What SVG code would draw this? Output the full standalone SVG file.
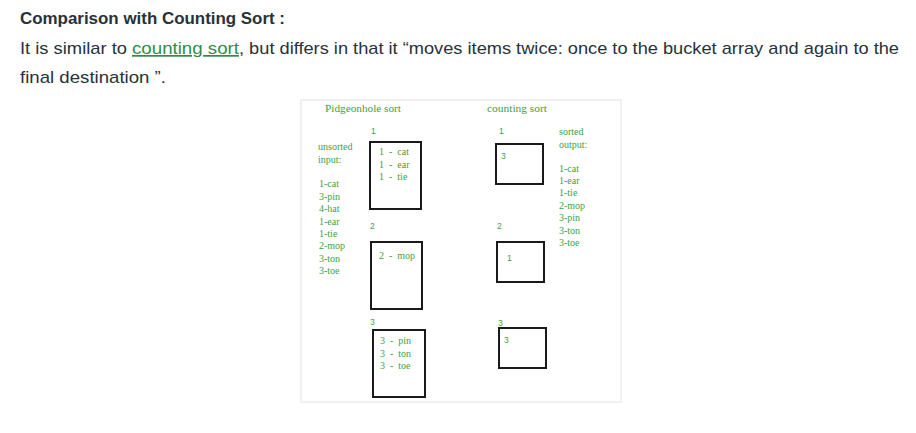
<svg xmlns="http://www.w3.org/2000/svg" width="916" height="433" viewBox="0 0 916 433">
<style>
.h{font-family:"Liberation Sans",Arial,sans-serif;fill:#273239}
.g{font-family:"Liberation Serif","Times New Roman",serif;fill:#43a043;font-size:10px;white-space:pre}
.n{font-family:"Liberation Sans",Arial,sans-serif;fill:#43a043;font-size:8.5px}
.box{fill:#fff;stroke:#1a1a1a;stroke-width:2}
</style>
<rect width="916" height="433" fill="#fff"/>
<text class="h" x="20" y="24" font-size="16" font-weight="bold" textLength="265" lengthAdjust="spacingAndGlyphs">Comparison with Counting Sort :</text>
<text class="h" x="20" y="54" font-size="17" textLength="107" lengthAdjust="spacingAndGlyphs">It is similar to</text>
<text x="132" y="54" font-size="17" font-family="Liberation Sans,Arial,sans-serif" fill="#2f8d46" text-decoration="underline" textLength="107" lengthAdjust="spacingAndGlyphs">counting sort</text>
<text class="h" x="239" y="54" font-size="17" textLength="660" lengthAdjust="spacingAndGlyphs">, but differs in that it “moves items twice: once to the bucket array and again to the</text>
<text class="h" x="20" y="83" font-size="17" textLength="146" lengthAdjust="spacingAndGlyphs">final destination ”.</text>

<rect x="301" y="100" width="320" height="302" fill="#fff" stroke="#ececec" stroke-width="1.5"/>

<g id="pidgeonhole">
<text class="g" x="325" y="112" textLength="76" lengthAdjust="spacingAndGlyphs">Pidgeonhole sort</text>
<text class="g" x="318" y="150">unsorted</text>
<text class="g" x="318" y="163">input:</text>
<g class="g">
<text x="319" y="187">1-cat</text>
<text x="319" y="200">3-pin</text>
<text x="319" y="212">4-hat</text>
<text x="319" y="224.5">1-ear</text>
<text x="319" y="237">1-tie</text>
<text x="319" y="249">2-mop</text>
<text x="319" y="262">3-ton</text>
<text x="319" y="274">3-toe</text>
</g>
</g>

<g id="pbucket1">
<text class="n" x="371" y="134">1</text>
<rect class="box" x="370" y="142" width="51" height="67"/>
<text class="g" x="379" y="155">1  -  cat</text>
<text class="g" x="379" y="167.5">1  -  ear</text>
<text class="g" x="379" y="180">1  -  tie</text>
</g>
<g id="pbucket2">
<text class="n" x="370" y="229">2</text>
<rect class="box" x="371" y="242" width="51" height="67"/>
<text class="g" x="379" y="259">2  -  mop</text>
</g>
<g id="pbucket3">
<text class="n" x="370" y="325">3</text>
<rect class="box" x="373" y="330" width="52" height="67"/>
<text class="g" x="380" y="344">3  -  pin</text>
<text class="g" x="380" y="357">3  -  ton</text>
<text class="g" x="380" y="369">3  -  toe</text>
</g>

<g id="counting">
<text class="g" x="487" y="112" textLength="60" lengthAdjust="spacingAndGlyphs">counting sort</text>
<text class="g" x="559" y="135">sorted</text>
<text class="g" x="559" y="148">output:</text>
<g class="g">
<text x="559" y="172">1-cat</text>
<text x="559" y="184">1-ear</text>
<text x="559" y="196">1-tie</text>
<text x="559" y="209">2-mop</text>
<text x="559" y="221">3-pin</text>
<text x="559" y="233.5">3-ton</text>
<text x="559" y="246">3-toe</text>
</g>
</g>
<g id="cbucket1">
<text class="n" x="499" y="134">1</text>
<rect class="box" x="496" y="144" width="47" height="40"/>
<text class="n" x="501" y="159">3</text>
</g>
<g id="cbucket2">
<text class="n" x="497" y="229">2</text>
<rect class="box" x="497" y="242" width="47" height="40"/>
<text class="n" x="507" y="261">1</text>
</g>
<g id="cbucket3">
<rect class="box" x="499" y="328" width="47" height="40"/>
<text class="n" x="498" y="326">3</text>
<text class="n" x="504" y="343">3</text>
</g>
<g id="connectors"/>
</svg>
